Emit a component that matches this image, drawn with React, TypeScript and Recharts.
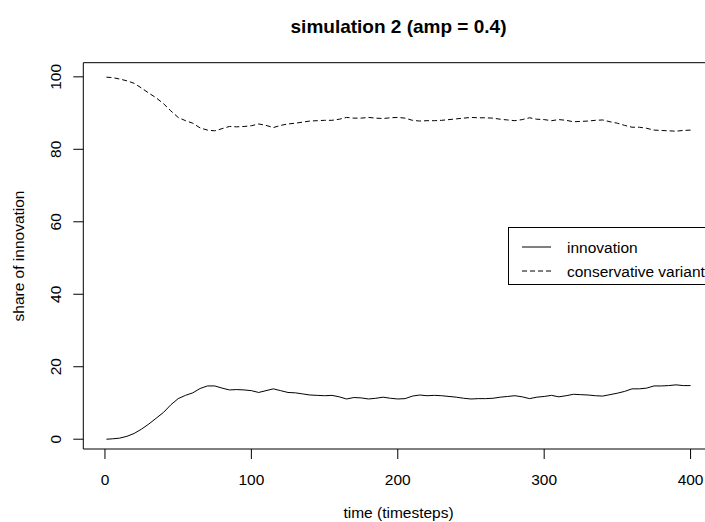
import { Line, LineChart, ReferenceArea, XAxis, YAxis } from "recharts";

// time steps sampled from the plot
const TIME = [
  1, 5, 10, 15, 20, 25, 30, 35, 40, 45, 50, 55, 60, 65, 70, 75, 80, 85, 90, 95,
  100, 105, 110, 115, 120, 125, 130, 135, 140, 145, 150, 155, 160, 165, 170, 175, 180, 185, 190, 195,
  200, 205, 210, 215, 220, 225, 230, 235, 240, 245, 250, 255, 260, 265, 270, 275, 280, 285, 290, 295,
  300, 305, 310, 315, 320, 325, 330, 335, 340, 345, 350, 355, 360, 365, 370, 375, 380, 385, 390, 395,
  400,
];

const INNOVATION = [
  0, 0.1, 0.3, 0.8, 1.6, 2.8, 4.2, 5.8, 7.4, 9.5, 11.2, 12.1, 12.8, 14.0, 14.7, 14.7, 14.1, 13.6, 13.7, 13.6,
  13.4, 12.9, 13.4, 13.9, 13.4, 12.9, 12.8, 12.5, 12.2, 12.1, 12.0, 12.1, 11.7, 11.1, 11.5, 11.4, 11.1, 11.3, 11.6, 11.3,
  11.1, 11.2, 11.9, 12.2, 12.0, 12.1, 12.0, 11.8, 11.6, 11.3, 11.1, 11.2, 11.2, 11.3, 11.6, 11.8, 12.0, 11.7, 11.2, 11.6,
  11.8, 12.1, 11.7, 12.0, 12.4, 12.3, 12.2, 12.0, 11.9, 12.3, 12.7, 13.2, 13.9, 13.9, 14.1, 14.7, 14.7, 14.8, 15.0, 14.8,
  14.8,
];

const CONSERVATIVE = [
  99.9, 99.8, 99.4, 98.9, 98.2, 96.9, 95.5, 94.2, 92.6, 90.6, 88.8, 87.9, 87.2, 85.9, 85.3, 85.1, 85.7, 86.3, 86.2, 86.3,
  86.5, 87.0, 86.6, 86.0, 86.6, 87.0, 87.2, 87.5, 87.8, 87.9, 88.0, 88.0, 88.3, 88.8, 88.6, 88.6, 88.8, 88.6, 88.5, 88.7,
  88.8, 88.6, 88.0, 87.8, 87.9, 87.9, 88.0, 88.2, 88.4, 88.6, 88.8, 88.7, 88.7, 88.6, 88.3, 88.1, 87.9, 88.2, 88.7, 88.3,
  88.2, 87.9, 88.2, 88.0, 87.6, 87.7, 87.8, 88.0, 88.1, 87.6, 87.2, 86.6, 86.1, 86.1, 85.8, 85.3, 85.2, 85.1, 85.0, 85.2,
  85.3,
];

const SERIES_NAMES = ["innovation", "conservative variant"];
const SERIES_DASH = [undefined, "5 3"];

const X_TICKS = [0, 100, 200, 300, 400];
const Y_TICKS = [0, 20, 40, 60, 80, 100];
const X_DOMAIN: [number, number] = [-14.8, 416];
const Y_DOMAIN: [number, number] = [-2.7, 103.9];

const FONT = "'Liberation Sans', Arial, Helvetica, sans-serif";

const rows = TIME.map((t, i) => ({
  t,
  innovation: INNOVATION[i],
  conservative: CONSERVATIVE[i],
}));

function XTick({ x, y, payload }: any) {
  return (
    <text x={x} y={y + 24} textAnchor="middle" fontSize={15.5} fontFamily={FONT} fill="#000">
      {payload.value}
    </text>
  );
}

function YTick({ x, y, payload }: any) {
  const bx = x - 10;
  return (
    <text
      x={bx}
      y={y}
      transform={`rotate(-90, ${bx}, ${y})`}
      textAnchor="middle"
      fontSize={15.5}
      fontFamily={FONT}
      fill="#000"
    >
      {payload.value}
    </text>
  );
}

// legend box, same look as R's legend()
function LegendBox() {
  const left = 508;
  const top = 227;
  return (
    <g>
      <rect x={left + 0.5} y={top + 0.5} width={230} height={57} fill="#fff" stroke="#000" strokeWidth={1} />
      {SERIES_NAMES.map((name, i) => {
        const cy = top + 20 + i * 24;
        return (
          <g key={name}>
            <line
              x1={left + 14}
              x2={left + 43}
              y1={cy}
              y2={cy}
              stroke="#000"
              strokeWidth={1}
              strokeDasharray={SERIES_DASH[i]}
            />
            <text x={left + 59} y={cy + 6} fontSize={15.5} fontFamily={FONT} fill="#000">
              {name}
            </text>
          </g>
        );
      })}
    </g>
  );
}

export default function App() {
  return (
    <div
      style={{
        position: "absolute",
        left: 0,
        top: 0,
        width: 705,
        height: 522,
        overflow: "hidden",
        background: "#fff",
        fontFamily: FONT,
      }}
    >
      <LineChart
        width={714}
        height={522}
        data={rows}
        margin={{ top: 62.7, right: 0, bottom: 0, left: 0 }}
      >
        <XAxis
          dataKey="t"
          type="number"
          domain={X_DOMAIN}
          ticks={X_TICKS}
          allowDataOverflow
          interval={0}
          height={73}
          axisLine={false}
          tickLine={{ stroke: "#000" }}
          tickSize={10}
          tick={<XTick />}
        />
        <YAxis
          type="number"
          domain={Y_DOMAIN}
          ticks={Y_TICKS}
          allowDataOverflow
          interval={0}
          width={83.3}
          axisLine={false}
          tickLine={{ stroke: "#000" }}
          tickSize={10}
          tick={<YTick />}
        />
        <ReferenceArea
          x1={X_DOMAIN[0]}
          x2={X_DOMAIN[1]}
          y1={Y_DOMAIN[0]}
          y2={Y_DOMAIN[1]}
          fill="none"
          stroke="#000"
          strokeWidth={1}
          ifOverflow="visible"
        />
        <Line
          dataKey="innovation"
          name={SERIES_NAMES[0]}
          stroke="#000"
          strokeWidth={1}
          dot={false}
          activeDot={false}
          type="linear"
          isAnimationActive={false}
        />
        <Line
          dataKey="conservative"
          name={SERIES_NAMES[1]}
          stroke="#000"
          strokeWidth={1}
          strokeDasharray={SERIES_DASH[1]}
          dot={false}
          activeDot={false}
          type="linear"
          isAnimationActive={false}
        />
        <LegendBox />
        <text x={398.5} y={33} textAnchor="middle" fontSize={19} fontWeight="bold" fontFamily={FONT} fill="#000">
          simulation 2 (amp = 0.4)
        </text>
        <text x={398.5} y={518} textAnchor="middle" fontSize={15.5} fontFamily={FONT} fill="#000">
          time (timesteps)
        </text>
        <text
          x={24}
          y={256}
          transform="rotate(-90, 24, 256)"
          textAnchor="middle"
          fontSize={15.5}
          fontFamily={FONT}
          fill="#000"
        >
          share of innovation
        </text>
      </LineChart>
    </div>
  );
}
